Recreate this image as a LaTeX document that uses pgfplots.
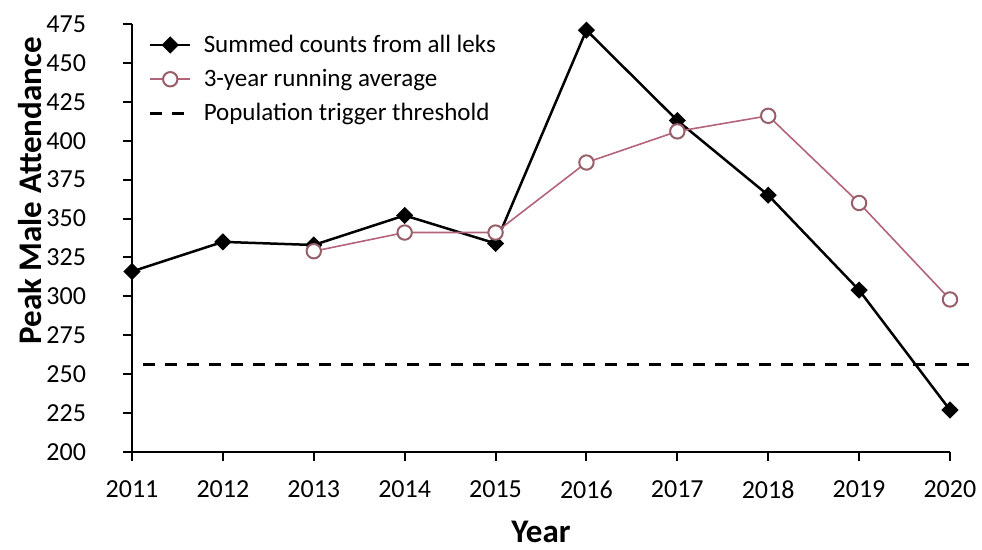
\documentclass[border=0pt]{standalone}
\usepackage{pgfplots}
\pgfplotsset{compat=1.18}
\usepackage{fontspec}
\setmainfont{Carlito}
\definecolor{avgline}{RGB}{180,100,120}
\definecolor{avgmark}{RGB}{150,95,105}
\begin{document}
\begin{tikzpicture}
\path[use as bounding box] (-66pt,-49pt) rectangle (425pt,226pt);
\begin{axis}[
  at={(0,0)}, anchor=south west,
  scale only axis, width=409pt, height=214pt,
  xmin=2011, xmax=2020, ymin=200, ymax=475,
  clip=false,
  axis lines=left,
  axis line style={line width=1pt, -},
  tick align=outside,
  major tick length=4.5pt,
  every tick/.append style={black, line width=1pt},
  xtick={2011,...,2020},
  ytick={200,225,...,475},
  /pgf/number format/1000 sep={},
  /pgf/number format/assume math mode=true,
  tick label style={font=\fontsize{13}{15}\selectfont},
  xticklabel style={yshift=-6.5pt},
  yticklabel style={xshift=-15pt},
  xlabel={Year}, ylabel={Peak Male Attendance},
  label style={font=\bfseries\fontsize{16.5}{19}\selectfont, inner sep=0pt},
  xlabel style={at={(axis description cs:0.5,-0.186)}, anchor=center},
  ylabel style={at={(axis description cs:-0.125,0.61)}, anchor=center},
  legend cell align=left,
  legend style={at={(axis description cs:0.02,0.985)}, anchor=north west,
    draw=none, fill=none, font=\fontsize{12.5}{14}\selectfont,
    row sep=3pt, inner sep=0pt},
  legend image code/.code={\draw[mark repeat=2,mark phase=2,#1] plot coordinates {(0pt,0pt)(10pt,0pt)(20pt,0pt)}; \path (24pt,0pt);},
]
\addplot[black, line width=1.25pt, mark=square*, mark size=2.4pt, mark options={rotate=45, solid}]
  coordinates {(2011,316)(2012,335)(2013,333)(2014,352)(2015,334)(2016,471)(2017,413)(2018,365)(2019,304)(2020,227)};
\addlegendentry{Summed counts from all leks}
\addplot[avgline, line width=0.8pt, mark=*, mark size=3.6pt, mark options={fill=white, draw=avgmark, line width=1pt}]
  coordinates {(2013,329)(2014,341)(2015,341)(2016,386)(2017,406)(2018,416)(2019,360)(2020,298)};
\addlegendentry{3-year running average}
\addplot[black, line width=1.5pt, dash pattern=on 6pt off 5pt]
  coordinates {(2011.12,256)(2020.3,256)};
\addlegendentry{Population trigger threshold}
\end{axis}
\end{tikzpicture}
\end{document}
